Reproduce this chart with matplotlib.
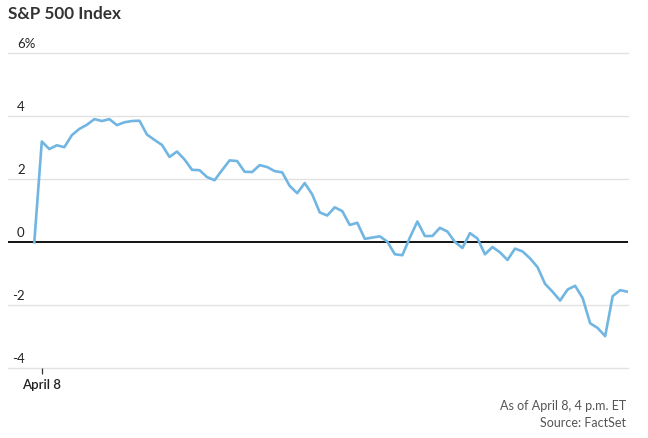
import numpy as np
import matplotlib
matplotlib.use("Agg")
import matplotlib.pyplot as plt

plt.rcParams['font.family'] = ['Lato', 'DejaVu Sans']

# S&P 500 intraday change, % vs previous close (5-minute points, first = prior close)
pct_change = [0.00,
              3.20, 2.96, 3.08, 3.02, 3.40, 3.60, 3.73, 3.91, 3.85, 3.91,
              3.72, 3.81, 3.85, 3.86, 3.42, 3.25, 3.09, 2.71, 2.88, 2.63,
              2.30, 2.29, 2.07, 1.97, 2.29, 2.60, 2.58, 2.24, 2.23, 2.45,
              2.39, 2.26, 2.22, 1.79, 1.56, 1.88, 1.52, 0.95, 0.85, 1.11,
              0.99, 0.55, 0.62, 0.11, 0.15, 0.19, 0.02, -0.38, -0.41, 0.15,
              0.66, 0.20, 0.20, 0.46, 0.34, 0.01, -0.18, 0.29, 0.12, -0.38,
              -0.15, -0.32, -0.56, -0.20, -0.29, -0.51, -0.79, -1.32, -1.57, -1.85,
              -1.50, -1.38, -1.77, -2.57, -2.72, -2.98, -1.71, -1.52, -1.57]

y_ticks = [-4, -2, 0, 2, 4, 6]
y_labels = ['-4', '-2', '0', '2', '4', '6%']
x_tick_pos = [1]
x_tick_labels = ['April 8']

W, H = 648, 438
fig = plt.figure(figsize=(W / 100, H / 100), dpi=100)
left, right, top, bottom = 8, 628, 53.3, 368.3
ax = fig.add_axes([left / W, 1 - bottom / H, (right - left) / W, (bottom - top) / H])

x = np.arange(len(pct_change))
ax.set_xlim(-3.5, len(pct_change) - 0.96)
ax.set_ylim(-4, 6)

for s in ax.spines.values():
    s.set_visible(False)

# gridlines (the top and bottom ones sit on the axes edge, so no clipping)
for v in y_ticks:
    if v == 0:
        continue
    ax.axhline(v, color='#e2e2e2', lw=1.0, zorder=1, clip_on=False)
ax.axhline(0, color='#111111', lw=1.4, zorder=3)

ax.plot(x, pct_change, color='#71b6e2', lw=1.9, zorder=4, solid_joinstyle='round')

ax.set_yticks([])
ax.set_xticks(x_tick_pos, x_tick_labels)
ax.tick_params(axis='x', length=4, width=0.9, color='#333333', pad=4,
               labelsize=9.5, labelcolor='#222222')
for lab in ax.get_xticklabels():
    lab.set_fontweight('semibold')

trans = ax.get_yaxis_transform()
for v, lab in zip(y_ticks, y_labels):
    if lab.startswith('-'):
        ax.text((24.5 - left) / (right - left), v + 0.18, lab,
                transform=trans, ha='right', va='baseline', fontsize=9.5, color='#222222')
    else:
        ax.text((17 - left) / (right - left), v + 0.18, lab,
                transform=trans, ha='left', va='baseline', fontsize=9.5, color='#222222')

fig.text(8 / W, 1 - 19 / H, 'S&P 500 Index', ha='left', va='baseline',
         fontsize=12.3, fontweight='bold', color='#333333')
fig.text(626 / W, 1 - 410 / H, 'As of April 8, 4 p.m. ET', ha='right', va='baseline',
         fontsize=9, color='#555555')
fig.text(626 / W, 1 - 427.3 / H, 'Source: FactSet', ha='right', va='baseline',
         fontsize=9, color='#555555')

fig.savefig('out.png', dpi=100)
